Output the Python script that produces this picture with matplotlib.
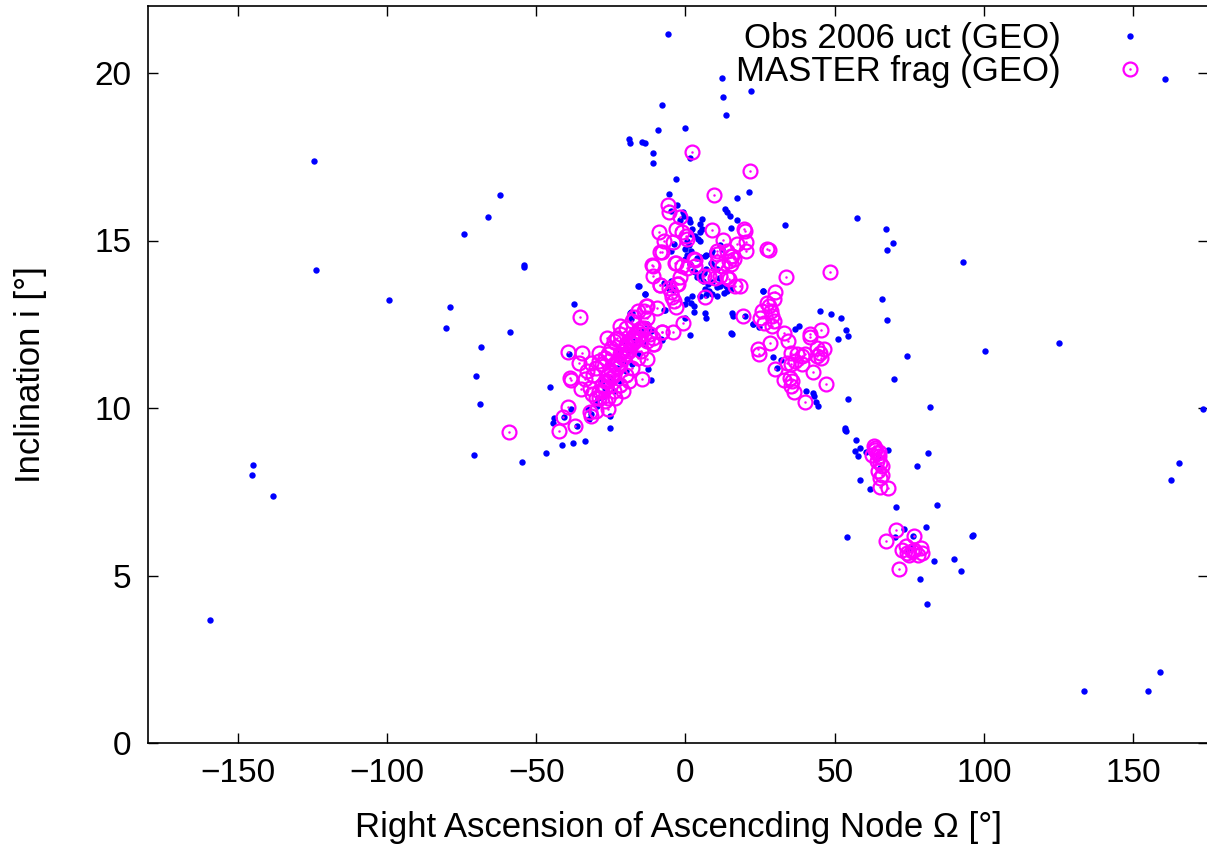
import numpy as np
import matplotlib.pyplot as plt

plt.rcParams['font.family'] = ['Liberation Sans', 'DejaVu Sans']

# observed uncorrelated GEO objects (RAAN deg, inclination deg)
obs_far = [(-159.3, 3.66), (-145.0, 8.30), (-145.2, 8.01), (-138.0, 7.38), (-124.4, 17.36),
           (-123.9, 14.11), (-99.3, 13.21), (-80.2, 12.40), (-79.0, 13.01), (-74.2, 15.18),
           (-70.3, 10.96), (-70.7, 8.60), (-68.9, 10.12), (-68.6, 11.82), (-66.2, 15.69),
           (-62.0, 16.37), (-58.9, 12.28), (-54.2, 14.26), (-54.0, 14.22), (-54.6, 8.38),
           (-46.8, 8.65), (-45.5, 10.62),
           (57.3, 15.67), (67.3, 15.34), (69.6, 14.93), (67.5, 14.71), (92.8, 14.36),
           (65.8, 13.25), (67.4, 12.63), (100.2, 11.70), (74.2, 11.54), (69.9, 10.86),
           (82.0, 10.03), (125.2, 11.94), (173.4, 9.96), (165.3, 8.37), (162.7, 7.86),
           (158.9, 2.12), (133.4, 1.55), (155.0, 1.55), (160.7, 19.82)]

obs_top = [(-5.9, 21.15), (12.3, 19.85), (12.6, 19.27), (13.6, 18.76), (21.9, 19.45),
           (-7.7, 19.04), (-9.1, 18.31), (0.0, 18.36), (-18.8, 18.04), (-18.6, 17.91),
           (-14.5, 17.95), (-13.4, 17.92), (-10.8, 17.60), (-10.8, 17.31), (1.4, 17.46),
           (-3.1, 16.85), (-5.6, 16.38), (-2.8, 16.05), (21.4, 16.46), (17.3, 16.26),
           (33.3, 15.47)]

obs_tail = [(25.9, 13.48), (44.9, 12.90), (48.7, 12.82), (52.0, 12.69), (53.7, 12.33),
            (54.5, 12.15), (51.2, 12.05), (36.6, 12.36), (37.9, 12.44), (29.2, 11.53),
            (31.9, 11.43), (30.7, 11.20), (40.5, 10.50), (42.7, 10.45), (43.2, 10.37),
            (43.6, 10.17), (44.3, 10.07), (54.3, 10.26), (53.3, 9.35), (53.6, 9.31),
            (53.5, 9.39), (57.2, 9.04), (56.9, 8.71), (57.7, 8.58), (58.6, 8.81),
            (60.3, 8.69), (67.9, 8.74), (81.2, 8.66), (77.4, 8.26), (58.5, 7.84),
            (61.7, 7.57), (70.6, 7.05), (84.3, 7.10), (54.1, 6.16), (70.3, 6.15),
            (73.3, 6.39), (80.6, 6.44), (76.1, 6.17), (95.8, 6.17), (96.3, 6.20),
            (90.0, 5.50), (92.3, 5.14), (83.1, 5.43), (78.7, 4.91), (80.8, 4.16),
            (19.8, 12.74), (22.5, 12.52), (24.5, 12.42), (22.7, 12.51), (26.0, 13.49),
            (74.5, 5.75), (76.0, 5.85), (64.5, 8.50), (65.0, 8.20)]

obs_peak = [(13.1, 15.95), (14.0, 15.85), (14.8, 15.73), (17.3, 15.62), (15.1, 15.37),
            (-0.8, 15.85), (-0.6, 15.73), (1.1, 15.65), (1.4, 15.56), (5.6, 15.65),
            (5.0, 15.49), (5.6, 15.34), (4.8, 15.24), (2.2, 15.34), (1.7, 15.19),
            (3.3, 15.14), (4.1, 15.04), (5.0, 14.99), (0.6, 14.99), (1.1, 14.86),
            (0.0, 14.74), (1.7, 14.69), (0.6, 14.56), (0.0, 14.44), (-5.0, 14.69),
            (3.9, 14.49), (5.0, 14.52), (7.0, 14.56), (8.4, 14.34), (9.3, 14.24),
            (7.0, 14.14), (6.1, 14.04), (11.7, 14.86), (12.3, 14.74), (8.9, 14.70),
            (10.6, 14.14), (11.1, 13.89), (11.7, 13.64), (6.7, 14.54), (8.4, 14.59),
            (5.0, 13.95), (6.0, 13.80), (7.5, 13.70), (9.0, 13.75), (10.5, 13.60),
            (12.0, 13.70), (13.5, 13.65), (6.5, 13.55), (8.0, 13.50), (3.3, 14.05),
            (3.9, 13.90), (2.2, 13.34), (0.6, 13.24), (0.0, 13.09), (1.9, 13.14),
            (2.8, 13.04), (5.0, 13.34), (7.0, 13.36), (8.9, 13.39), (10.6, 13.34),
            (12.8, 13.44), (14.0, 13.49), (15.1, 13.54), (6.7, 12.84), (7.0, 12.69),
            (3.0, 12.86), (0.0, 12.68), (1.4, 12.18), (15.6, 12.84), (16.0, 12.74),
            (15.1, 12.23), (15.6, 12.20), (-16.0, 13.64), (-13.6, 13.41), (-15.7, 13.64),
            (-5.0, 13.79), (-5.3, 13.64), (-5.6, 13.54), (-3.9, 13.52), (-7.3, 12.94),
            (-6.7, 12.94), (-3.9, 14.89), (-5.0, 15.88), (-1.7, 15.61), (-18.7, 12.84),
            (-17.8, 12.84), (-18.4, 12.65), (-8.1, 12.05), (-11.7, 12.30), (-8.0, 12.03),
            (-7.3, 13.73), (1.5, 14.30), (2.5, 14.10)]

obs_band = [(-41.5, 8.89), (-37.7, 8.97), (-33.8, 9.01), (-44.1, 9.70), (-44.4, 9.55),
            (-40.7, 9.73), (-38.5, 9.96), (-36.3, 9.46), (-37.3, 13.11), (-13.5, 13.41),
            (-25.3, 9.40), (-25.3, 9.75), (-32.7, 9.96), (-31.6, 9.81), (-32.2, 9.66),
            (-29.6, 10.05), (-30.0, 10.19), (-29.2, 10.30), (-27.3, 10.35), (-11.6, 10.85),
            (-12.5, 11.17), (-18.4, 12.86), (-39.1, 11.62),
            (-27, 10.6), (-25, 10.9), (-23, 11.2), (-21, 11.4), (-19, 11.7), (-17, 12.0),
            (-24, 10.5), (-22, 10.8), (-20, 11.1), (-18, 11.3), (-16, 11.6), (-14, 11.9),
            (-26, 11.3), (-28, 10.8), (-15, 12.3), (-13, 12.5), (-20, 12.0), (-22, 11.7)]

# MASTER fragments
frag_far = [(-59.0, 9.27), (2.2, 17.65), (21.7, 17.07), (9.5, 16.36), (27.9, 14.71),
            (33.8, 13.91), (48.5, 14.05)]

frag_tail = [(30.1, 13.47), (29.6, 13.26), (27.4, 13.14), (28.5, 12.89), (29.0, 12.74),
             (29.6, 12.59), (29.0, 12.44), (25.7, 12.89), (25.1, 12.69), (26.2, 12.54),
             (27.9, 13.04), (24.2, 11.75), (24.5, 11.60), (28.3, 11.94), (32.9, 12.23),
             (34.2, 11.99), (41.7, 12.22), (41.6, 12.12), (45.4, 12.33), (44.1, 11.80),
             (45.0, 11.65), (46.3, 11.75), (45.4, 11.50), (44.1, 11.55), (35.2, 11.65),
             (37.4, 11.60), (39.1, 11.55), (40.2, 11.60), (36.8, 11.40), (39.1, 11.30),
             (35.2, 11.30), (34.0, 11.35), (42.7, 11.07), (29.9, 11.16), (32.9, 10.85),
             (34.9, 10.90), (35.7, 10.80), (35.2, 10.65), (36.5, 10.47), (40.2, 10.18),
             (47.0, 10.73), (18.4, 13.64), (19.3, 12.74),
             (63.1, 8.86), (63.6, 8.76), (64.2, 8.66), (62.5, 8.61), (64.7, 8.56),
             (64.2, 8.41), (65.3, 8.36), (65.8, 8.26), (64.4, 8.11), (65.8, 8.01),
             (65.3, 7.91), (65.1, 7.64), (67.7, 7.61), (63.5, 8.80), (64.8, 8.70),
             (70.6, 6.37), (76.5, 6.17), (67.1, 6.04), (71.6, 5.18), (72.6, 5.77),
             (73.7, 5.87), (74.3, 5.67), (76.0, 5.72), (74.9, 5.62), (76.7, 5.77),
             (78.9, 5.82), (79.1, 5.67), (77.8, 5.62)]

frag_peak = [(-5.8, 16.06), (-5.6, 15.86), (-1.7, 15.71), (-8.9, 15.26), (-3.3, 15.34),
             (-1.1, 15.26), (0.3, 15.14), (0.6, 15.04), (-7.3, 14.99), (-4.1, 14.96),
             (-8.0, 14.67), (9.0, 15.31), (12.6, 15.02), (19.5, 15.34), (19.8, 15.27),
             (20.4, 14.96), (17.3, 14.89), (20.4, 14.69), (27.4, 14.74), (10.4, 14.59),
             (14.0, 14.69), (15.6, 14.54), (14.5, 14.39), (16.2, 14.44), (15.1, 14.29),
             (12.3, 14.24), (2.8, 14.44), (-3.6, 14.34), (-1.1, 14.24), (0.6, 14.18),
             (-10.8, 14.24), (-11.0, 13.94), (-1.7, 13.90), (3.3, 14.24), (10.0, 13.89),
             (11.7, 13.94), (13.8, 13.90), (14.5, 13.85), (-8.4, 13.66), (-2.8, 13.71),
             (-4.5, 13.31), (-3.9, 13.20), (-3.1, 13.02), (16.7, 13.64), (6.7, 13.31),
             (-0.8, 12.55), (-4.1, 12.28), (-7.8, 12.28), (-11.0, 12.10), (-10.5, 11.90),
             (6.1, 13.94), (7.8, 13.94), (-11.3, 14.28), (-8.5, 13.67), (-8.4, 14.65),
             (-3.2, 14.34), (3.1, 14.41), (10.6, 14.70), (10.6, 14.35), (15.1, 14.54),
             (-2.4, 13.71), (-5.6, 13.59), (-4.7, 13.46)]

frag_band = [(-35.4, 12.73), (-39.3, 11.67), (-34.8, 11.63), (-35.8, 11.33), (-31.7, 11.33),
             (-38.6, 10.89), (-35.1, 10.58), (-33.7, 10.87), (-31.4, 10.43), (-39.2, 10.03),
             (-40.9, 9.73), (-42.3, 9.31), (-37.1, 9.46), (-32.1, 9.87), (-31.7, 9.75),
             (-25.9, 9.98), (-23.5, 10.31), (-28.9, 11.65), (-26.2, 12.09), (-21.8, 12.45),
             (-17.3, 12.71), (-13.1, 13.04), (-9.5, 12.99), (-8.0, 12.28), (-10.8, 11.92),
             (-12.8, 11.45), (-14.7, 10.88), (-20.0, 11.91), (-38.5, 10.85), (-12.9, 13.04),
             (-23.4, 12.07),
             (-30, 10.3), (-29, 10.5), (-28, 10.7), (-27, 10.8), (-26, 11.0), (-25, 11.1),
             (-24, 11.3), (-23, 11.4), (-22, 11.6), (-21, 11.7), (-20, 11.8), (-19, 12.0),
             (-18, 12.1), (-17, 12.2), (-16, 12.3), (-15, 12.4),
             (-29, 10.3), (-28, 10.5), (-27, 10.6), (-26, 10.8), (-25, 10.9), (-24, 11.0),
             (-23, 11.2), (-22, 11.3), (-21, 11.5), (-20, 11.6), (-19, 11.7), (-18, 11.9),
             (-17, 12.0), (-16, 12.1), (-15, 12.2), (-14, 12.4),
             (-28, 11.3), (-27, 11.5), (-26, 11.6), (-25, 11.8), (-24, 12.0), (-23, 12.1),
             (-22, 12.2), (-20, 12.4), (-18, 12.6), (-16, 12.9), (-14, 12.9), (-13, 12.7),
             (-26, 10.3), (-24, 10.5), (-22, 10.7), (-20, 11.0), (-18, 11.2), (-16, 11.5),
             (-15, 11.7), (-13, 12.0), (-12, 12.2),
             (-31, 11.0), (-30, 11.2), (-29, 11.4), (-33, 11.1), (-32, 10.6), (-30, 9.9),
             (-27, 10.2), (-21, 10.5), (-19, 10.8)]

obs = np.array(obs_far + obs_top + obs_tail + obs_peak + obs_band)
frag = np.array(frag_far + frag_tail + frag_peak + frag_band)

fig = plt.figure(figsize=(12.07, 8.52), dpi=100)
ax = fig.add_axes([148 / 1207, 109 / 852, 1060 / 1207, 737 / 852])

h_obs, = ax.plot(obs[:, 0], obs[:, 1], 'o', color='#0000ff', ms=4.6, mew=0, ls='none')
h_ring, = ax.plot(frag[:, 0], frag[:, 1], 'o', mfc='none', mec='#ff00ff', ms=10, mew=1.6, ls='none')
h_dot, = ax.plot(frag[:, 0], frag[:, 1], 'o', color='#ff00ff', ms=1.8, mew=0, ls='none')

ax.set_xlim(-180, 175)
ax.set_ylim(0, 22)
ax.set_xticks(np.arange(-150, 151, 50))
ax.set_yticks(np.arange(0, 21, 5))
ax.tick_params(direction='in', length=7, width=1, top=True, right=True, labelsize=24)
ax.tick_params(axis='x', pad=11)
ax.tick_params(axis='y', pad=12)
for s in ax.spines.values():
    s.set_linewidth(1.2)

ax.set_xlabel('Right Ascension of Ascencding Node \u03a9 [\u00b0]', fontsize=25, labelpad=16)
ax.set_ylabel('Inclination i [\u00b0]', fontsize=25, labelpad=34)

ax.legend([h_obs, (h_ring, h_dot)], ['Obs 2006 uct (GEO)', 'MASTER frag (GEO)'],
          loc='upper right', frameon=False, markerfirst=False, fontsize=25,
          handlelength=2.0, handletextpad=1.0, labelspacing=0.0,
          borderaxespad=0.0, bbox_to_anchor=(0.9726, 0.997))

fig.savefig('out.png', dpi=100)
